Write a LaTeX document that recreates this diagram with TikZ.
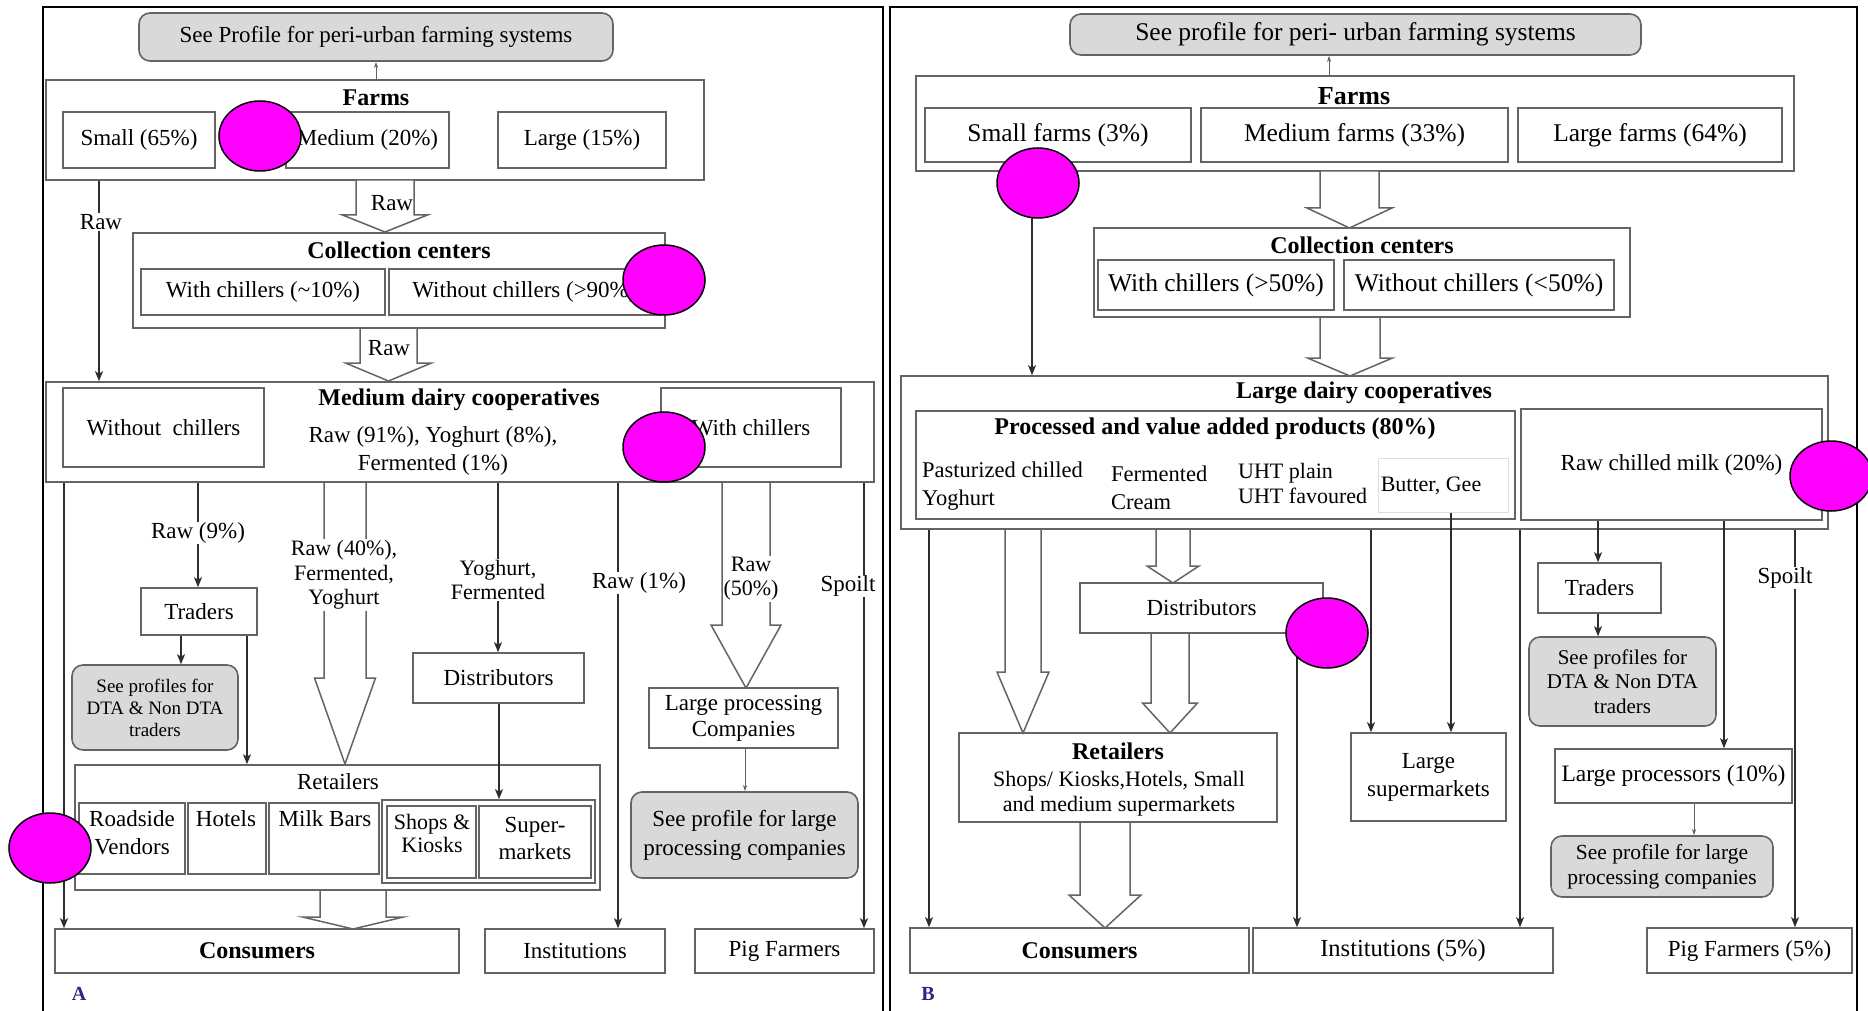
\documentclass[tikz,border=0pt]{standalone}
\usepackage{fontspec}
\setmainfont{Liberation Serif}
\usetikzlibrary{arrows.meta,shapes.geometric}

\definecolor{edgegray}{RGB}{100,100,100}
\definecolor{wiregray}{RGB}{45,45,45}
\definecolor{notegray}{RGB}{217,217,217}
\definecolor{tagblue}{RGB}{40,40,130}
\definecolor{blobpink}{RGB}{255,0,255}

% hollow block arrow: centre x, top y, half shaft, half head, head start y, tip y
\newcommand{\hollowarr}[6]{%
  \draw[fat] ({#1-#3},#2) -- ({#1+#3},#2) -- ({#1+#3},#5) -- ({#1+#4},#5)
    -- (#1,#6) -- ({#1-#4},#5) -- ({#1-#3},#5) -- cycle;}

\tikzset{
  box/.style={rectangle, draw=edgegray, line width=1.6pt, fill=white, inner sep=0pt},
  note/.style={box, fill=notegray, rounded corners=11pt},
  lbl/.style={inner sep=1pt, align=center, text=black},
  gap/.style={lbl, fill=white},
  wire/.style={draw=wiregray, line width=1.3pt, -{Stealth[length=10pt,width=8pt,inset=2.5pt]}},
  thinwire/.style={draw=edgegray, line width=0.8pt, -{Stealth[length=6pt,width=4pt,inset=1.5pt]}},
  fat/.style={draw=edgegray, line width=1.5pt, fill=white, line join=miter},
  blob/.style={ellipse, draw=black, line width=1.5pt, fill=blobpink,
    minimum width=82pt, minimum height=70pt, inner sep=0pt},
  frame/.style={draw=black, line width=2.6pt},
  tA/.style={font=\fontsize{23}{27}\selectfont},
  hA/.style={font=\bfseries\fontsize{24}{28}\selectfont},
  tB/.style={font=\fontsize{25.5}{29}\selectfont},
  hB/.style={font=\bfseries\fontsize{24}{28}\selectfont},
  tag/.style={font=\bfseries\fontsize{20}{20}\selectfont, text=tagblue},
}

\begin{document}
\begin{tikzpicture}[x=1pt,y=-1pt]
\useasboundingbox (0,0) rectangle (1868,1011);
\clip (0,0) rectangle (1868,1011);
\fill[white] (0,0) rectangle (1868,1011);

% ---------- panel frames ----------
\draw[frame] (43,1011) -- (43,7) -- (883,7) -- (883,1011);
\draw[frame] (890,1011) -- (890,7) -- (1857,7) -- (1857,1011);

% =================== PANEL A ===================
\node[note, minimum width=474pt, minimum height=48pt, tA] (profA) at (376,37) {See Profile for peri-urban farming systems};

\node[box, minimum width=658pt, minimum height=100pt] (farmsA) at (375,130) {};
\node[lbl, hA] (farmsAt) at (376,98) {Farms};
\node[box, minimum width=152pt, minimum height=56pt, tA] (smallA) at (139,140) {Small (65\%)};
\node[box, minimum width=163pt, minimum height=56pt, tA] (mediumA) at (367.5,140) {Medium (20\%)};
\node[box, minimum width=168pt, minimum height=56pt, tA] (largeA) at (582,140) {Large (15\%)};
\draw[thinwire] (376,0 |- farmsA.north) -- (376,0 |- profA.south);

\node[box, minimum width=532pt, minimum height=95pt] (collA) at (399,280.5) {};
\node[lbl, hA] (collAt) at (399,250) {Collection centers};
\node[box, minimum width=244pt, minimum height=46pt, tA] (withA) at (263,292) {With chillers (\textasciitilde10\%)};
\node[box, minimum width=271pt, minimum height=46pt, tA] (withoutA) at (524.5,292) {Without chillers (>90\%)};

\node[box, minimum width=828pt, minimum height=100pt] (medA) at (460,432) {};
\node[lbl, hA] (medAt) at (459,400) {Medium dairy cooperatives};
\node[box, minimum width=201pt, minimum height=79pt, tA] (wochA) at (163.5,427.5) {Without~~chillers};
\node[lbl, font=\fontsize{23}{28}\selectfont] (mixA) at (433,451) {Raw (91\%), Yoghurt (8\%),\\Fermented (1\%)};
\node[box, minimum width=180pt, minimum height=79pt, tA] (wchA) at (751,427.5) {With chillers};

\node[box, minimum width=116pt, minimum height=47pt, tA] (tradersA) at (199,611.5) {Traders};
\node[note, minimum width=166pt, minimum height=85pt, align=center, font=\fontsize{19}{22}\selectfont] (dtaA) at (155,707.5) {See profiles for\\DTA \& Non DTA\\traders};
\node[box, minimum width=171pt, minimum height=50pt, tA] (distA) at (498.5,678) {Distributors};

\node[box, minimum width=525pt, minimum height=125pt] (retA) at (337.5,827.5) {};
\node[lbl, tA] (retAt) at (338,782) {Retailers};
\node[box, minimum width=106pt, minimum height=71pt] (roadA) at (132,838.5) {};
\node[box, minimum width=78pt, minimum height=71pt] (hotelA) at (227,838.5) {};
\node[box, minimum width=110pt, minimum height=71pt] (milkA) at (324,838.5) {};
\node[box, minimum width=213pt, minimum height=83pt] (shopsOutA) at (488.5,841.5) {};
\node[box, minimum width=89pt, minimum height=72pt] (shopsA) at (431.5,842) {};
\node[box, minimum width=112pt, minimum height=72pt] (superA) at (535,842) {};
\node[lbl, font=\fontsize{23}{28}\selectfont] (roadAt) at (132,833) {Roadside\\Vendors};
\node[lbl, tA] (hotelAt) at (226,819) {Hotels};
\node[lbl, tA] (milkAt) at (325,819) {Milk Bars};
\node[lbl, font=\fontsize{22}{23}\selectfont] (shopsAt) at (432,833.5) {Shops \&\\Kiosks};
\node[lbl, font=\fontsize{23}{27}\selectfont] (superAt) at (535,838.5) {Super-\\markets};

\node[box, minimum width=189pt, minimum height=60pt, align=center, font=\fontsize{23}{26}\selectfont] (lpcA) at (743.5,718) {Large processing\\Companies};
\node[note, minimum width=227pt, minimum height=86pt, align=center, font=\fontsize{23}{29}\selectfont] (proflA) at (744.5,835) {See profile for large\\processing companies};

\node[box, minimum width=404pt, minimum height=44pt, hA] (consA) at (257,951) {Consumers};
\node[box, minimum width=180pt, minimum height=44pt, tA] (instA) at (575,951) {Institutions};
\node[box, minimum width=179pt, minimum height=44pt, tA] (pigA) at (784.5,951) {Pig Farmers};

% block arrows, panel A
\hollowarr{385}{180}{29}{42.5}{215}{232}
\hollowarr{388.5}{328}{28.5}{43}{363}{381}
\hollowarr{345}{482}{21}{30.5}{678}{764}
\hollowarr{746}{482}{24}{35}{625}{688}
\hollowarr{353}{890}{33}{50.5}{917}{929}

% connectors, panel A
\draw[wire] (99,0 |- farmsA.south) -- (99,0 |- medA.north);
\draw[wire] (64,0 |- medA.south) -- (64,0 |- consA.north);
\draw[wire] (198,0 |- medA.south) -- (198,0 |- tradersA.north);
\draw[wire] (181,0 |- tradersA.south) -- (181,0 |- dtaA.north);
\draw[wire] (247,0 |- tradersA.south) -- (247,0 |- retA.north);
\draw[wire] (498,0 |- medA.south) -- (498,0 |- distA.north);
\draw[wire] (499,0 |- distA.south) -- (499,0 |- shopsOutA.north);
\draw[wire] (618,0 |- medA.south) -- (618,0 |- instA.north);
\draw[wire] (864,0 |- medA.south) -- (864,0 |- pigA.north);
\draw[thinwire] (745,0 |- lpcA.south) -- (745,0 |- proflA.north);

% labels on connectors, panel A
\node[lbl, tA] (rawA1) at (392,203) {Raw};
\node[lbl, tA] (rawA2) at (389,348) {Raw};
\node[gap, tA] (rawA0) at (101,222) {Raw};
\node[gap, tA] (raw9A) at (198,533) {Raw (9\%)};
\node[gap, font=\fontsize{22}{24.5}\selectfont] (raw40A) at (344,575) {Raw (40\%),\\Fermented,\\Yoghurt};
\node[gap, font=\fontsize{22}{24}\selectfont] (yfA) at (498,580) {Yoghurt,\\Fermented};
\node[gap, tA] (raw1A) at (639,583) {Raw (1\%)};
\node[gap, font=\fontsize{22}{24}\selectfont] (raw50A) at (751,579) {Raw\\(50\%)};
\node[gap, tA] (spoilA) at (848,586) {Spoilt};

\node[tag] (tagA) at (79,994) {A};

% =================== PANEL B ===================
\node[note, minimum width=571pt, minimum height=41pt, tB] (profB) at (1355.5,34.5) {See profile for peri- urban farming systems};

\node[box, minimum width=878pt, minimum height=95pt] (farmsB) at (1355,123.5) {};
\node[lbl, font=\bfseries\fontsize{26}{28}\selectfont] (farmsBt) at (1354,96) {Farms};
\node[box, minimum width=266pt, minimum height=54pt, tB] (smallB) at (1058,135) {Small farms (3\%)};
\node[box, minimum width=307pt, minimum height=54pt, tB] (mediumB) at (1354.5,135) {Medium farms (33\%)};
\node[box, minimum width=264pt, minimum height=54pt, tB] (largeB) at (1650,135) {Large farms (64\%)};
\draw[thinwire] (1329,0 |- farmsB.north) -- (1329,0 |- profB.south);

\node[box, minimum width=536pt, minimum height=89pt] (collB) at (1362,272.5) {};
\node[lbl, hB] (collBt) at (1362,245) {Collection centers};
\node[box, minimum width=236pt, minimum height=50pt, tB] (withB) at (1216,285) {With chillers (>50\%)};
\node[box, minimum width=270pt, minimum height=50pt, tB] (withoutB) at (1479,285) {Without chillers (<50\%)};

\node[box, minimum width=927pt, minimum height=153pt] (ldcB) at (1364.5,452.5) {};
\node[lbl, hB] (ldcBt) at (1364,393) {Large dairy cooperatives};
\node[box, minimum width=599pt, minimum height=108pt] (procB) at (1215.5,465) {};
\node[lbl, hB] (procBt) at (1215,429) {Processed and value added products (80\%)};
\node[lbl, anchor=west, align=left, font=\fontsize{22.5}{28}\selectfont] (pastB) at (921,486) {Pasturized chilled\\Yoghurt};
\node[lbl, anchor=west, align=left, font=\fontsize{22.5}{28}\selectfont] (fermB) at (1110,488) {Fermented\\Cream};
\node[lbl, anchor=west, align=left, font=\fontsize{22}{25}\selectfont] (uhtB) at (1237,483.5) {UHT plain\\UHT favoured};
\node[box, draw=notegray!80!black!40, line width=1pt, minimum width=130pt, minimum height=54pt] (butterB) at (1443,485) {};
\node[lbl, font=\fontsize{22}{25}\selectfont] (butterBt) at (1431,486) {Butter, Gee};
\node[box, minimum width=301pt, minimum height=111pt, font=\fontsize{23}{27}\selectfont] (rawB) at (1671.5,464.5) {Raw chilled milk (20\%)};

\node[box, minimum width=243pt, minimum height=50pt, font=\fontsize{23}{27}\selectfont] (distB) at (1201.5,608) {Distributors};
\node[box, minimum width=123pt, minimum height=50pt, font=\fontsize{23}{27}\selectfont] (tradersB) at (1599.5,588) {Traders};
\node[note, minimum width=187pt, minimum height=89pt, align=center, font=\fontsize{21}{24.5}\selectfont] (dtaB) at (1622.5,681.5) {See profiles for\\DTA \& Non DTA\\traders};

\node[box, minimum width=318pt, minimum height=89pt] (retB) at (1118,777.5) {};
\node[lbl, hB] (retBt) at (1118,751) {Retailers};
\node[lbl, font=\fontsize{22}{25}\selectfont] (retBx) at (1119,793.5) {Shops/ Kiosks,Hotels, Small\\and medium supermarkets};
\node[box, minimum width=155pt, minimum height=88pt, align=center, font=\fontsize{23}{28}\selectfont] (lsmB) at (1428.5,777) {Large\\supermarkets};
\node[box, minimum width=237pt, minimum height=54pt, font=\fontsize{23.5}{27}\selectfont] (lprocB) at (1673.5,776) {Large processors (10\%)};
\node[note, minimum width=222pt, minimum height=61pt, align=center, font=\fontsize{21.5}{25}\selectfont] (proflB) at (1662,866.5) {See profile for large\\processing companies};

\node[box, minimum width=339pt, minimum height=45pt, hB] (consB) at (1079.5,950.5) {Consumers};
\node[box, minimum width=300pt, minimum height=45pt, font=\fontsize{24.5}{27}\selectfont] (instB) at (1403,950.5) {Institutions (5\%)};
\node[box, minimum width=205pt, minimum height=45pt, font=\fontsize{23}{27}\selectfont] (pigB) at (1749.5,950.5) {Pig Farmers (5\%)};

% block arrows, panel B
\hollowarr{1349.5}{171}{29.5}{42.5}{208}{228}
\hollowarr{1350}{317}{30}{42.5}{358}{376}
\hollowarr{1023}{529}{18}{26}{672}{733}
\hollowarr{1173}{529}{17}{26}{566}{583}
\hollowarr{1170}{633}{19}{27.5}{703}{733}
\hollowarr{1105}{822}{25}{36}{895}{928}

% connectors, panel B
\draw[wire] (1032,0 |- smallB.south) -- (1032,0 |- ldcB.north);
\draw[wire] (929,0 |- ldcB.south) -- (929,0 |- consB.north);
\draw[wire] (1297,0 |- distB.south) -- (1297,0 |- instB.north);
\draw[wire] (1371,0 |- ldcB.south) -- (1371,0 |- lsmB.north);
\draw[wire] (1451,0 |- butterB.south) -- (1451,0 |- lsmB.north);
\draw[wire] (1520,0 |- ldcB.south) -- (1520,0 |- instB.north);
\draw[wire] (1598,0 |- rawB.south) -- (1598,0 |- tradersB.north);
\draw[wire] (1598,0 |- tradersB.south) -- (1598,0 |- dtaB.north);
\draw[wire] (1724,0 |- rawB.south) -- (1724,0 |- lprocB.north);
\draw[thinwire] (1694,0 |- lprocB.south) -- (1694,0 |- proflB.north);
\draw[wire] (1795,0 |- ldcB.south) -- (1795,0 |- pigB.north);
\node[gap, font=\fontsize{23}{27}\selectfont] (spoilB) at (1785,578) {Spoilt};

\node[tag] (tagB) at (928,994) {B};

% =================== markers ===================
\node[blob] (m1) at (260,136) {};
\node[blob] (m2) at (664,280) {};
\node[blob] (m3) at (664,447) {};
\node[blob] (m4) at (50,848) {};
\node[blob] (m5) at (1038,183) {};
\node[blob] (m6) at (1327,633) {};
\node[blob] (m7) at (1831,476) {};
\end{tikzpicture}
\end{document}
